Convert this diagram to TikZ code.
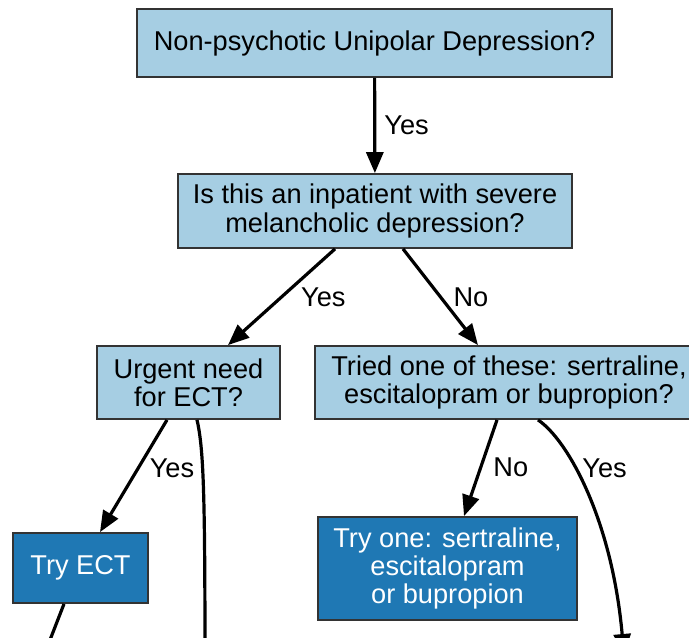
\documentclass[tikz,border=0pt]{standalone}
\usepackage{fontspec}
\setmainfont{Liberation Sans}
\usetikzlibrary{arrows.meta,positioning}

\definecolor{askfill}{HTML}{A6CEE3}
\definecolor{dofill}{HTML}{1F78B4}

\begin{document}
\begin{tikzpicture}[x=0.5pt,y=-0.5pt,>={Triangle[length=10.5pt,width=8.5pt]},line width=1.6pt,
	font=\fontsize{13.6}{14.2}\selectfont,align=center,
	question/.style={draw=black!80,line width=0.9pt,fill=askfill,inner sep=0pt},
	treatment/.style={question,fill=dofill,text=white},
	lbl/.style={inner sep=0pt}]
	\useasboundingbox (0,0) rectangle (689,637);
	\clip (0,0) rectangle (689,637);
				\node[question,minimum width=237.5pt,minimum height=34pt] (q_0) at (374.5,43) {Non-psychotic Unipolar Depression?};
				\node[question,minimum width=197pt,minimum height=37pt] (q_1) at (375,211) {Is this an inpatient with severe\\melancholic depression?};
				\node[question,minimum width=91.5pt,minimum height=36.5pt] (q_2) at (188.5,382.5) {Urgent need\\for ECT?};
				\node[question,minimum width=194pt,minimum height=36.5pt] (q_3) at (509,382.5) {Tried one of these: sertraline,\\escitalopram or bupropion?};
				\node[treatment,minimum width=67.5pt,minimum height=35pt] (t_0) at (80.5,568) {Try ECT};
				\node[treatment,minimum width=129.5pt,minimum height=51.5pt] (t_1) at (447.5,568.5) {Try one: sertraline,\\escitalopram\\or bupropion};
				\coordinate (out_u) at (205,700);
				\coordinate (out_t0) at (36,676);
				\coordinate (out_q3) at (624,655);
				\path[->]
					(q_0) edge node[lbl,right=4pt] {Yes} (q_1)
					([xshift=-20pt]q_1.south) edge node[lbl,right=9pt] {Yes} ([xshift=19.75pt]q_2.north)
					([xshift=14pt]q_1.south) edge node[lbl,right=5.75pt] {No} ([xshift=-15.5pt]q_3.north)
					([xshift=-10.75pt]q_2.south) edge node[lbl,pos=0.43,right=5pt] {Yes} ([xshift=9.75pt]t_0.north)
					([xshift=-6pt]q_3.south) edge node[lbl,pos=0.49,right=5.5pt] {No} ([xshift=8.25pt]t_1.north)
					([xshift=-8.25pt]t_0.south) edge (out_t0);
				\draw[->] ([xshift=4.25pt]q_2.south) .. controls (204,450) and (205,500) .. (out_u);
				\draw[->] ([xshift=14.5pt]q_3.south) .. controls (568,440) and (612,520) .. node[lbl,pos=0.38,right=2.5pt] {Yes} (out_q3);
			\end{tikzpicture}
\end{document}
